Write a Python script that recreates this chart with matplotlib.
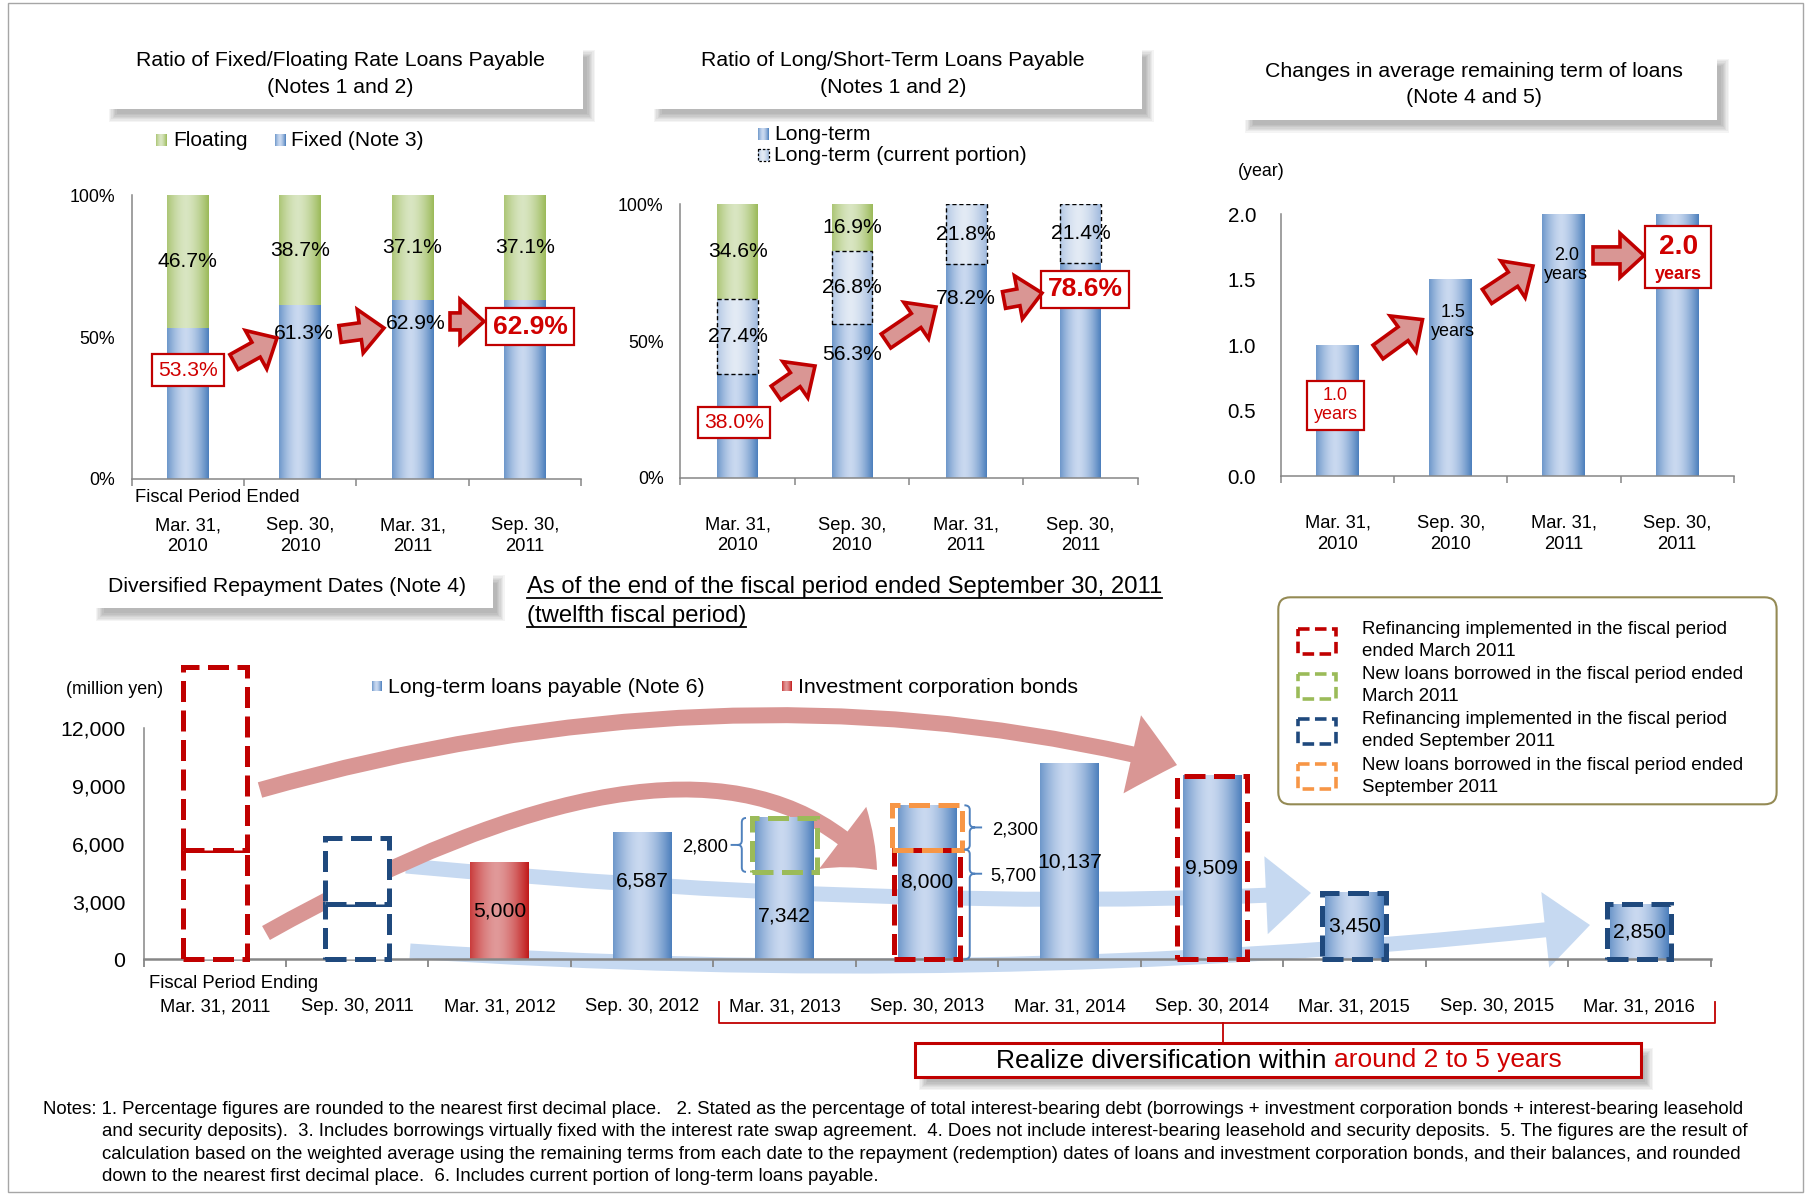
import numpy as np
import matplotlib.pyplot as plt
from matplotlib import patches, transforms
from matplotlib.path import Path

plt.rcParams['font.family'] = ['Liberation Sans', 'DejaVu Sans']

# ---------------- data ----------------
dates_top = ['Mar. 31,\n2010', 'Sep. 30,\n2010', 'Mar. 31,\n2011', 'Sep. 30,\n2011']
fixed = [53.3, 61.3, 62.9, 62.9]
floating = [46.7, 38.7, 37.1, 37.1]
long_term = [38.0, 56.3, 78.2, 78.6]
current_portion = [27.4, 26.8, 21.8, 21.4]
short_term = [34.6, 16.9, 0.0, 0.0]
remaining_term = [1.0, 1.5, 2.0, 2.0]

dates_bottom = ['Mar. 31, 2011', 'Sep. 30, 2011', 'Mar. 31, 2012', 'Sep. 30, 2012',
                'Mar. 31, 2013', 'Sep. 30, 2013', 'Mar. 31, 2014', 'Sep. 30, 2014',
                'Mar. 31, 2015', 'Sep. 30, 2015', 'Mar. 31, 2016']
loans = [0, 0, 0, 6587, 7342, 8000, 10137, 9509, 3450, 0, 2850]
bonds = [0, 0, 5000, 0, 0, 0, 0, 0, 0, 0, 0]
refi_mar11 = [5700, 9509]   # refinanced in FP ended Mar. 2011 -> due Sep. 2013 / Sep. 2014
refi_sep11 = [2850, 3450]   # refinanced in FP ended Sep. 2011 -> due Mar. 2016 / Mar. 2015
new_mar11 = 2800            # new loans FP ended Mar. 2011 -> due Mar. 2013
new_sep11 = 2300            # new loans FP ended Sep. 2011 -> due Sep. 2013

notes = [
    "Notes: 1. Percentage figures are rounded to the nearest first decimal place.   2. Stated as the percentage of total interest-bearing debt (borrowings + investment corporation bonds + interest-bearing leasehold",
    "and security deposits).  3. Includes borrowings virtually fixed with the interest rate swap agreement.  4. Does not include interest-bearing leasehold and security deposits.  5. The figures are the result of",
    "calculation based on the weighted average using the remaining terms from each date to the repayment (redemption) dates of loans and investment corporation bonds, and their balances, and rounded",
    "down to the nearest first decimal place.  6. Includes current portion of long-term loans payable.",
]

# ---------------- colours ----------------
RED = '#C00000'
TRED = '#D00000'
ARROW_FILL = '#D99694'
LIGHT_BLUE = '#C6D9F1'
AXIS_GRAY = '#868686'
BLUE = ((0.30, 0.50, 0.74), (0.79, 0.85, 0.94))
GREEN = ((0.61, 0.73, 0.35), (0.85, 0.90, 0.76))
PALE = ((0.63, 0.73, 0.87), (0.89, 0.92, 0.96))
REDBAR = ((0.76, 0.10, 0.10), (0.88, 0.60, 0.60))
NAVY = '#1F497D'
LGREEN = '#9BBB59'
ORANGE = '#F79646'

W, H = 1812, 1194
fig = plt.figure(figsize=(W / 100, H / 100), dpi=100)
ov = fig.add_axes([0, 0, 1, 1], zorder=10)
ov.axis('off')
ov.set_xlim(0, W)
ov.set_ylim(H, 0)
ov.set_autoscale_on(False)


def axes_px(x0, y0, x1, y1):
    return fig.add_axes([x0 / W, 1 - y1 / H, (x1 - x0) / W, (y1 - y0) / H])


def gradient(cols, n=64):
    edge, mid = np.array(cols[0]), np.array(cols[1])
    t = np.linspace(0, 1, n)
    w = np.clip(1 - np.abs((t - 0.45) / 0.55) ** 1.6, 0, 1)
    return (edge[None, :] * (1 - w[:, None]) + mid[None, :] * w[:, None])[None, :, :]


def paint(ax, bars, cols, z=2):
    img = gradient(cols)
    for b in bars:
        if b.get_height() <= 0:
            continue
        x, y, w, h = b.get_x(), b.get_y(), b.get_width(), b.get_height()
        ax.imshow(img, extent=(x, x + w, y, y + h), aspect='auto', zorder=z,
                  interpolation='bilinear')


def grad_marker(x0, y0, x1, y1, cols):
    ov.imshow(gradient(cols), extent=(x0, x1, y1, y0), aspect='auto', zorder=3)


def style(ax, n, ylim, yticks, ylabels, fs_y, pad_y, pad_x):
    ax.patch.set_alpha(0)
    for s in ['top', 'right']:
        ax.spines[s].set_visible(False)
    for s in ['left', 'bottom']:
        ax.spines[s].set_color(AXIS_GRAY)
        ax.spines[s].set_linewidth(1.1)
    ax.set_yticks(yticks, ylabels, fontsize=fs_y)
    ax.tick_params(axis='y', length=0, pad=pad_y)
    ax.tick_params(axis='x', which='major', length=0, pad=pad_x)
    ax.set_xticks(np.arange(n + 1) - 0.5, minor=True)
    ax.tick_params(axis='x', which='minor', length=5, width=1.1, color=AXIS_GRAY)
    ax.set_xlim(-0.5, n - 0.5)
    ax.set_ylim(*ylim)


def shadow_box(x0, y0, x1, y1, ec='none', lw=0):
    for i in range(7):
        g = i * 1.3
        ov.add_patch(patches.Rectangle((x0 + 4 + g, y0 + 5 + g), x1 - x0 + 8 - 2 * g,
                                       y1 - y0 + 8 - 2 * g, fc='black', ec='none',
                                       alpha=0.045, zorder=1))
    ov.add_patch(patches.Rectangle((x0, y0), x1 - x0, y1 - y0, fc='white', ec=ec,
                                   lw=lw, zorder=1.5))


def block_arrow(x0, y0, x1, y1, shaft=17, head=44, head_len=24):
    d = np.array([x1 - x0, y1 - y0], float)
    L = np.hypot(*d)
    u = d / L
    nv = np.array([-u[1], u[0]])
    p0 = np.array([x0, y0], float)
    base = p0 + u * (L - head_len)
    pts = [p0 + nv * shaft / 2, base + nv * shaft / 2, base + nv * head / 2,
           np.array([x1, y1], float), base - nv * head / 2, base - nv * shaft / 2,
           p0 - nv * shaft / 2]
    ov.add_patch(patches.Polygon(pts, closed=True, fc=ARROW_FILL, ec=RED, lw=2.6,
                                 joinstyle='miter', zorder=5))


def red_label(ax, x, y, s, fs=15.2, bold=False, pad=0.3):
    ax.text(x, y, s, color=TRED, fontsize=fs, fontweight='bold' if bold else 'normal',
            ha='center', va='center', zorder=6, linespacing=1.15,
            bbox=dict(boxstyle=f'square,pad={pad}', fc='white', ec=RED, lw=1.6))


# ---------------- chart 1: fixed / floating ----------------
ax1 = axes_px(131.7, 195.4, 581, 478.6)
x4 = np.arange(4)
b_fix = ax1.bar(x4, fixed, 0.373, color='none')
b_flo = ax1.bar(x4, floating, 0.373, bottom=fixed, color='none')
paint(ax1, b_fix, BLUE)
paint(ax1, b_flo, GREEN)
style(ax1, 4, (0, 100), [0, 50, 100], ['0%', '50%', '100%'], 12.8, 12, 28)
ax1.set_xticks(x4, dates_top, fontsize=13.2, linespacing=1.28)
for i in range(4):
    ax1.text(i, fixed[i] + floating[i] / 2, f'{floating[i]:.1f}%', ha='center',
             va='center', fontsize=15.2, zorder=5)
fixed_label_y = [38.3, 51.4, 54.6, 53.7]
red_label(ax1, 0, fixed_label_y[0], f'{fixed[0]:.1f}%')
for i in (1, 2):
    ax1.text(i + 0.03, fixed_label_y[i], f'{fixed[i]:.1f}%', ha='center', va='center',
             fontsize=15.2, zorder=5)
red_label(ax1, 3.05, fixed_label_y[3], f'{fixed[3]:.1f}%', fs=19, bold=True, pad=0.25)
ov.text(134.8, 497.5, 'Fiscal Period Ended', fontsize=13.2, va='center')

shadow_box(104.8, 44.6, 583, 109)
ov.text(340, 60.7, 'Ratio of Fixed/Floating Rate Loans Payable', fontsize=15.3,
        ha='center', va='center', zorder=3)
ov.text(340, 87.5, '(Notes 1 and 2)', fontsize=15.3, ha='center', va='center', zorder=3)
grad_marker(156, 134, 167, 146, GREEN)
ov.text(172.8, 141, 'Floating', fontsize=15, va='center')
grad_marker(275, 134, 286, 146, BLUE)
ov.text(290.6, 141, 'Fixed (Note 3)', fontsize=15, va='center')
block_arrow(234, 362, 277, 338)
block_arrow(340, 334, 384, 328)
block_arrow(450, 321.4, 484, 321.4)

# ---------------- chart 2: long / short term ----------------
ax2 = axes_px(680.4, 204.3, 1137.7, 477.9)
lc = [a + b for a, b in zip(long_term, current_portion)]
b_long = ax2.bar(x4, long_term, 0.355, color='none')
b_cur = ax2.bar(x4, current_portion, 0.355, bottom=long_term, color='none')
b_short = ax2.bar(x4, short_term, 0.355, bottom=lc, color='none')
paint(ax2, b_long, BLUE)
paint(ax2, b_cur, PALE)
paint(ax2, b_short, GREEN)
for b in b_cur:
    ax2.add_patch(patches.Rectangle((b.get_x(), b.get_y()), b.get_width(), b.get_height(),
                                    fill=False, ec='black', lw=1.0, ls=(0, (3, 2)), zorder=3))
style(ax2, 4, (0, 100), [0, 50, 100], ['0%', '50%', '100%'], 12.8, 12, 28)
ax2.set_xticks(x4, dates_top, fontsize=13.2, linespacing=1.28)
for i in range(4):
    if short_term[i] > 0:
        ax2.text(i, lc[i] + short_term[i] / 2, f'{short_term[i]:.1f}%', ha='center',
                 va='center', fontsize=15.2, zorder=5)
    ax2.text(i, long_term[i] + current_portion[i] / 2, f'{current_portion[i]:.1f}%',
             ha='center', va='center', fontsize=15.2, zorder=5)
long_label_y = [20.2, 45.1, 65.5, 69.0]
red_label(ax2, -0.03, long_label_y[0], f'{long_term[0]:.1f}%')
for i in (1, 2):
    ax2.text(i, long_label_y[i], f'{long_term[i]:.1f}%', ha='center', va='center',
             fontsize=15.2, zorder=5)
red_label(ax2, 3.04, long_label_y[3], f'{long_term[3]:.1f}%', fs=19, bold=True, pad=0.25)

shadow_box(649.8, 44.6, 1141.5, 109)
ov.text(892.8, 60.7, 'Ratio of Long/Short-Term Loans Payable', fontsize=15.3,
        ha='center', va='center', zorder=3)
ov.text(892.8, 87.5, '(Notes 1 and 2)', fontsize=15.3, ha='center', va='center', zorder=3)
grad_marker(758.4, 128, 769.2, 140, BLUE)
ov.text(774.1, 135, 'Long-term', fontsize=15.2, va='center')
grad_marker(758.4, 149, 769.2, 161, PALE)
ov.add_patch(patches.Rectangle((758.4, 149), 10.8, 12, fill=False, ec='black', lw=0.9,
                               ls=(0, (2, 1.5)), zorder=4))
ov.text(774.1, 155.4, 'Long-term (current portion)', fontsize=15.2, va='center')
block_arrow(776, 393, 815, 366)
block_arrow(886, 341, 936, 307)
block_arrow(1004, 300, 1042, 293)

# ---------------- chart 3: average remaining term ----------------
ax3 = axes_px(1281.2, 214.3, 1733.6, 476)
b_term = ax3.bar(x4, remaining_term, 0.38, color='none')
paint(ax3, b_term, BLUE)
yt = [0, 0.5, 1.0, 1.5, 2.0]
style(ax3, 4, (0, 2.0), yt, [f'{v:.1f}' for v in yt], 14.8, 18, 28)
ax3.set_xticks(x4, dates_top, fontsize=13.2, linespacing=1.28)
term_label_y = [0.54, 1.18, 1.61]
red_label(ax3, -0.02, term_label_y[0], f'{remaining_term[0]:.1f}\nyears', fs=13, pad=0.35)
for i in (1, 2):
    ax3.text(i + 0.02, term_label_y[i], f'{remaining_term[i]:.1f}\nyears', ha='center',
             va='center', fontsize=13, linespacing=1.15, zorder=5)
ov.add_patch(patches.Rectangle((1645.3, 225.7), 66, 61.8, fc='white', ec=RED, lw=1.6,
                               zorder=6))
ov.text(1678.5, 247, f'{remaining_term[3]:.1f}', color=TRED, fontsize=20.2,
        fontweight='bold', ha='center', va='center', zorder=7)
ov.text(1678.5, 274.5, 'years', color=TRED, fontsize=13, fontweight='bold',
        ha='center', va='center', zorder=7)
ov.text(1261.3, 171.4, '(year)', fontsize=12.9, ha='center', va='center')

shadow_box(1241, 53.6, 1717, 119.6)
ov.text(1474, 71.4, 'Changes in average remaining term of loans', fontsize=15.3,
        ha='center', va='center', zorder=3)
ov.text(1474, 97.1, '(Note 4 and 5)', fontsize=15.3, ha='center', va='center', zorder=3)
block_arrow(1378, 352, 1422.5, 319.6)
block_arrow(1487, 296.4, 1533, 266)
block_arrow(1593, 255.4, 1644, 255.4)

# ---------------- bottom: repayment schedule ----------------
axb = axes_px(143.5, 728.3, 1710.5, 959.3)
x11 = np.arange(11)
b_loans = axb.bar(x11, loans, 0.41, color='none')
b_bonds = axb.bar(x11, bonds, 0.41, color='none')
paint(axb, b_loans, BLUE, z=2)
paint(axb, b_bonds, REDBAR, z=2)
yb = [0, 3000, 6000, 9000, 12000]
style(axb, 11, (0, 12000), yb, [f'{v:,}' for v in yb], 15.3, 13, 28)
axb.spines['bottom'].set_linewidth(1.8)
axb.tick_params(axis='x', which='minor', length=6, width=1.3)
axb.set_xticks(x11, dates_bottom, fontsize=13.2)

loan_label_y = [v / 2 for v in loans]
loan_label_y[3] = 4080
loan_label_y[4] = (loans[4] - new_mar11) / 2
for i, v in enumerate(loans):
    if v:
        axb.text(i, loan_label_y[i], f'{v:,}', ha='center', va='center', fontsize=15.2,
                 zorder=5)
for i, v in enumerate(bonds):
    if v:
        axb.text(i, v / 2, f'{v:,}', ha='center', va='center', fontsize=15.2, zorder=5)

# sweeping arrows showing where refinanced amounts moved
PT = ov.transData


def sweep(p0, c, p2, color, tail, head_w, head_l, z):
    path = Path([p0, c, p2], [Path.MOVETO, Path.CURVE3, Path.CURVE3])
    k = 72 / 100
    arr = patches.FancyArrowPatch(
        path=path, transform=PT, clip_on=False, fc=color, ec='none', zorder=z,
        arrowstyle=patches.ArrowStyle.Simple(head_length=head_l * k, head_width=head_w * k,
                                             tail_width=tail * k),
        mutation_scale=1)
    axb.add_artist(arr)


sweep((406, 866), (930, 914), (1311, 893), LIGHT_BLUE, 15, 78, 45, 0.5)
sweep((410, 951), (994, 991), (1590, 925), LIGHT_BLUE, 15, 76, 45, 0.5)
sweep((260, 790), (740, 654), (1177, 765), ARROW_FILL, 16, 80, 46, 0.6)
sweep((266, 933), (712, 682), (877, 870), ARROW_FILL, 16, 78, 47, 0.6)


def dashed_box(i, lo, hi, color, width=0.45, fill=False):
    axb.add_patch(patches.Rectangle((i - width / 2, lo), width, hi - lo,
                                    fc='white' if fill else 'none', ec=color, lw=3.6,
                                    ls=(0, (4.2, 1.7)), clip_on=False, zorder=4))


dashed_box(0, 0, refi_mar11[0], RED, fill=True)
dashed_box(0, refi_mar11[0], sum(refi_mar11), RED, fill=True)
dashed_box(1, 0, refi_sep11[0], NAVY, fill=True)
dashed_box(1, refi_sep11[0], sum(refi_sep11), NAVY, fill=True)
dashed_box(4, loans[4] - new_mar11, loans[4], LGREEN)
dashed_box(5, 0, refi_mar11[0], RED, width=0.47)
dashed_box(5, refi_mar11[0], refi_mar11[0] + new_sep11, ORANGE, width=0.49)
dashed_box(7, 0, refi_mar11[1], RED, width=0.49)
dashed_box(8, 0, refi_sep11[1], NAVY)
dashed_box(10, 0, refi_sep11[0], NAVY)

# braces marking the split of the Mar. 2013 / Sep. 2013 amounts
BT = transforms.blended_transform_factory(ov.transData, axb.transData)


def brace(x_end, x_tip, lo, hi, frac, label, x_lab, ha):
    y_tip = hi - frac * (hi - lo)
    xm = (x_end + x_tip) / 2
    c = 230
    verts = [(x_end, hi), (xm, hi), (xm, hi - c), (xm, y_tip + c), (xm, y_tip), (x_tip, y_tip),
             (xm, y_tip), (xm, y_tip - c), (xm, lo + c), (xm, lo), (x_end, lo)]
    codes = [Path.MOVETO, Path.CURVE3, Path.CURVE3, Path.LINETO, Path.CURVE3, Path.CURVE3,
             Path.CURVE3, Path.CURVE3, Path.LINETO, Path.CURVE3, Path.CURVE3]
    tick = x_tip + (7 if x_tip > x_end else -7)
    verts += [(x_tip, y_tip), (tick, y_tip)]
    codes += [Path.MOVETO, Path.LINETO]
    axb.add_artist(patches.PathPatch(Path(verts, codes), transform=BT, fill=False,
                                     ec='#4F81BD', lw=1.4, clip_on=False, zorder=4))
    axb.text(x_lab, y_tip - 120, label, transform=BT, ha=ha, va='center', fontsize=13.2,
             clip_on=False)


brace(746, 737.6, loans[4] - new_mar11, loans[4], 0.5, f'{new_mar11:,}', 728, 'right')
brace(964.4, 975.1, refi_mar11[0], refi_mar11[0] + new_sep11, 0.5, f'{new_sep11:,}', 992, 'left')
brace(964.4, 975.1, 0, refi_mar11[0], 0.22, f'{refi_mar11[0]:,}', 990, 'left')

ov.text(114.2, 690, '(million yen)', fontsize=12.9, ha='center', va='center')
ov.text(149.3, 984, 'Fiscal Period Ending', fontsize=13.3, va='center')
grad_marker(372, 681, 382, 691, BLUE)
ov.text(387.5, 687.3, 'Long-term loans payable (Note 6)', fontsize=15.3, va='center')
grad_marker(782, 681, 792, 691, REDBAR)
ov.text(798, 687.3, 'Investment corporation bonds', fontsize=15.3, va='center')

shadow_box(91.8, 570, 492.5, 608.3)
ov.text(287, 586.5, 'Diversified Repayment Dates (Note 4)', fontsize=15.3, ha='center',
        va='center', zorder=3)

renderer = fig.canvas.get_renderer()
for yy, s in [(586.7, 'As of the end of the fiscal period ended September 30, 2011'),
              (616, '(twelfth fiscal period)')]:
    t = ov.text(527, yy, s, fontsize=17.2, va='center')
    bb = t.get_window_extent(renderer)
    ov.plot([bb.x0, bb.x1], [yy + 11, yy + 11], color='black', lw=1.3)

# legend box for the dashed outlines
ov.add_patch(patches.FancyBboxPatch((1278.3, 597.3), 498.3, 207,
                                    boxstyle='round,pad=0,rounding_size=12', fc='white',
                                    ec='#948A54', lw=1.5, zorder=2))
legend_entries = [
    (RED, 'Refinancing implemented in the fiscal period\nended March 2011'),
    (LGREEN, 'New loans borrowed in the fiscal period ended\nMarch 2011'),
    (NAVY, 'Refinancing implemented in the fiscal period\nended September 2011'),
    (ORANGE, 'New loans borrowed in the fiscal period ended\nSeptember 2011'),
]
for k, (col, txt) in enumerate(legend_entries):
    yc = 641 + k * 45.2
    ov.add_patch(patches.Rectangle((1298, yc - 12.5), 38, 25, fill=False, ec=col, lw=2.6,
                                   ls=(0, (3.2, 1.5)), zorder=3))
    ov.text(1361.6, yc - 0.5, txt, fontsize=13.4, va='center', linespacing=1.38, zorder=3)

# bracket under the 2013-2016 periods and call-out box
ov.plot([719, 719, 1715, 1715], [1002, 1023, 1023, 1002], color=RED, lw=1.3)
ov.plot([1223, 1223], [1023, 1043], color=RED, lw=1.3)
shadow_box(915, 1043, 1641, 1077, ec=RED, lw=2.2)
t1 = ov.text(996, 1060.5, 'Realize diversification within', fontsize=19, va='center',
             zorder=3)
ov.annotate('around 2 to 5 years', xy=(1, 0), xycoords=t1, xytext=(5.3, 0),
            textcoords='offset points', ha='left', va='bottom', fontsize=19, color=TRED,
            zorder=3)

# notes
ov.text(42.8, 1109.5, notes[0], fontsize=13.4, va='center')
for k, line in enumerate(notes[1:]):
    ov.text(101.7, 1132 + 22.3 * k, line, fontsize=13.4, va='center')

ov.add_patch(patches.Rectangle((8, 3), 1795, 1189, fill=False, ec='#A6A6A6', lw=1.0))
ov.set_xlim(0, W)
ov.set_ylim(H, 0)

fig.savefig('out.png', dpi=100)
